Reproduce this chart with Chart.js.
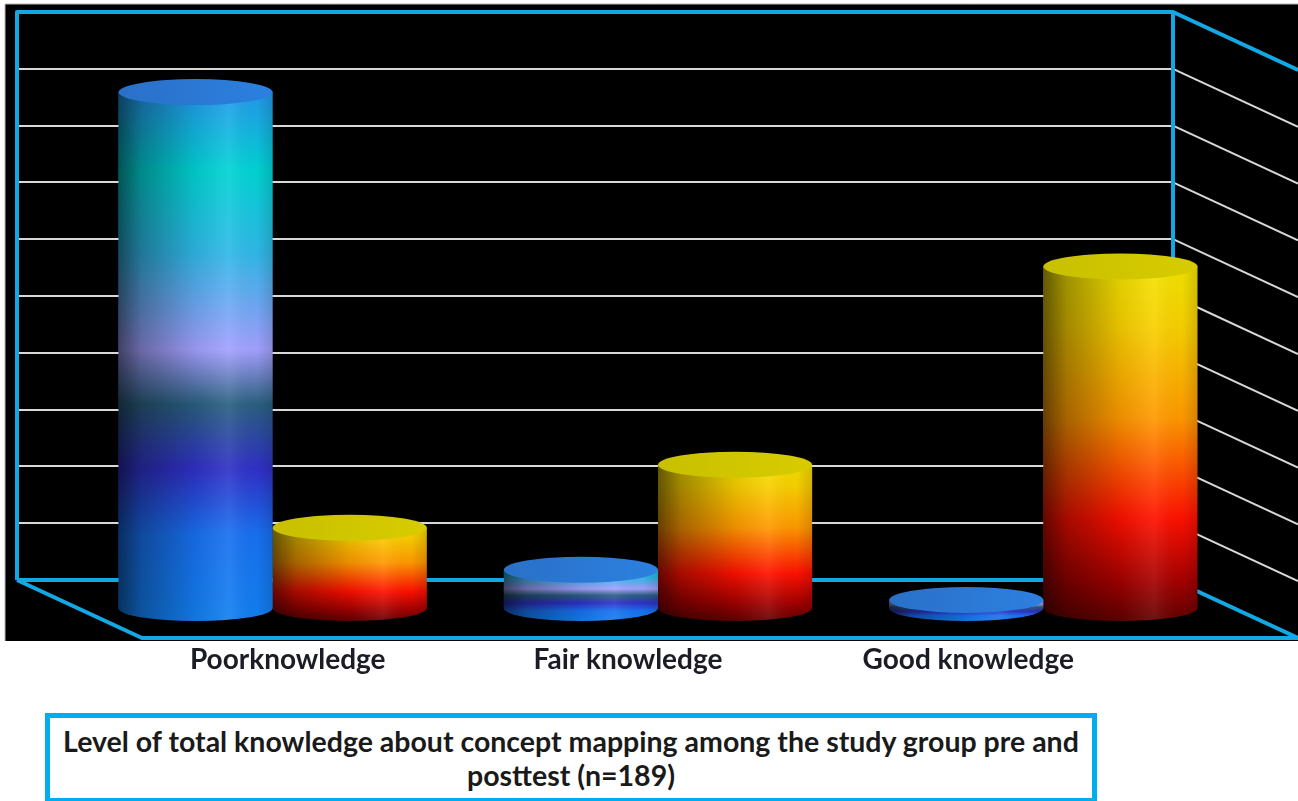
<!DOCTYPE html>
<html>
<head>
<meta charset="utf-8">
<script src="https://cdn.jsdelivr.net/npm/chart.js@4"></script>
<style>
  body { margin: 0; background: #fff; width: 1298px; height: 801px; position: relative; overflow: hidden; }
  #wrap { position: absolute; left: 0; top: 0; width: 1298px; height: 690px; }
  #title {
    position: absolute; left: 45px; top: 713px; width: 1042px; height: 74px;
    border: 5px solid #00aeef; box-sizing: content-box;
    font-family: Lato, sans-serif; font-weight: bold; font-size: 28.5px; line-height: 34px;
    color: #1a1a1a; text-align: center; padding-top: 6px;
  }
</style>
</head>
<body>
<div id="wrap"><canvas id="myChart" width="1298" height="690"></canvas></div>
<div id="title">Level of total knowledge about concept mapping among the study group pre and<br>posttest (n=189)</div>
<script>
// data (percent of n=189)
var categories = ['Poorknowledge', 'Fair knowledge', 'Good knowledge'];
var preTest = [91.0, 6.9, 1.6];
var postTest = [14.3, 25.4, 60.3];
var yTicks = [0, 10, 20, 30, 40, 50, 60, 70, 80, 90, 100];

var CYAN = '#12a8e4';
var DEPTH_X = 125, DEPTH_Y = 58;   // box depth
var SHIFT_X = 63, SHIFT_Y = 29;    // bars sit half way in
var RY = 13;

function bodyPath(ctx, cx, top, bottom, w) {
  var rx = w / 2;
  ctx.beginPath();
  ctx.moveTo(cx - rx, top);
  ctx.lineTo(cx - rx, bottom);
  ctx.ellipse(cx, bottom, rx, RY, 0, Math.PI, 0, true);
  ctx.lineTo(cx + rx, top);
  ctx.closePath();
}

function drawCylinder(ctx, cx, top, bottom, w, kind) {
  var rx = w / 2;
  var g = ctx.createLinearGradient(0, top - RY, 0, bottom + RY);
  if (kind == 'pre') {
    g.addColorStop(0, '#2a8ef0');
    g.addColorStop(0.17, '#00d4d4');
    g.addColorStop(0.32, '#30b8e8');
    g.addColorStop(0.42, '#70a8f4');
    g.addColorStop(0.5, '#a4a0ff');
    g.addColorStop(0.6, '#2a6080');
    g.addColorStop(0.72, '#3030c8');
    g.addColorStop(0.84, '#1870f0');
    g.addColorStop(1, '#1280f0');
  } else {
    g.addColorStop(0, '#f0e800');
    g.addColorStop(0.2, '#f8d000');
    g.addColorStop(0.45, '#ff9800');
    g.addColorStop(0.72, '#ff1000');
    g.addColorStop(0.9, '#a00000');
    g.addColorStop(1, '#600000');
  }
  bodyPath(ctx, cx, top, bottom, w);
  ctx.fillStyle = g;
  ctx.fill();
  // side shading
  var h = ctx.createLinearGradient(cx - rx, 0, cx + rx, 0);
  h.addColorStop(0, 'rgba(0,0,0,0.6)');
  h.addColorStop(0.15, 'rgba(0,0,0,0.35)');
  h.addColorStop(0.5, 'rgba(0,0,0,0.08)');
  h.addColorStop(0.72, 'rgba(255,255,255,0.08)');
  h.addColorStop(0.9, 'rgba(0,0,0,0.02)');
  h.addColorStop(1, 'rgba(0,0,0,0.15)');
  bodyPath(ctx, cx, top, bottom, w);
  ctx.fillStyle = h;
  ctx.fill();
  // lid
  var t = ctx.createLinearGradient(cx - rx, 0, cx + rx, 0);
  if (kind == 'pre') {
    t.addColorStop(0, '#2a70c8');
    t.addColorStop(1, '#2c80e0');
  } else {
    t.addColorStop(0, '#c8c000');
    t.addColorStop(1, '#d8cc00');
  }
  ctx.beginPath();
  ctx.ellipse(cx, top, rx, RY, 0, 0, Math.PI * 2);
  ctx.fillStyle = t;
  ctx.fill();
}

var boxPlugin = {
  id: 'box3d',
  beforeDraw: function(chart) {
    var ctx = chart.ctx, a = chart.chartArea;
    ctx.save();
    ctx.fillStyle = '#000';
    ctx.fillRect(a.left - 12, a.top - 8, chart.width - a.left + 12, a.bottom + DEPTH_Y + 3 - a.top + 8);
    ctx.strokeStyle = '#b8b8b8';
    ctx.lineWidth = 1;
    ctx.beginPath();
    ctx.moveTo(a.left - 12, a.bottom + DEPTH_Y + 3);
    ctx.lineTo(a.left - 12, a.top - 8);
    ctx.lineTo(chart.width, a.top - 8);
    ctx.stroke();
    ctx.restore();
  },
  beforeDatasetsDraw: function(chart) {
    var ctx = chart.ctx, a = chart.chartArea, ys = chart.scales.y;
    ctx.save();
    // grid lines on the right wall
    ctx.strokeStyle = '#d8d8d8';
    ctx.lineWidth = 2;
    yTicks.forEach(function(v) {
      var y = ys.getPixelForValue(v);
      ctx.beginPath();
      ctx.moveTo(a.right, y);
      ctx.lineTo(a.right + DEPTH_X, y + DEPTH_Y);
      ctx.stroke();
    });
    ctx.strokeStyle = CYAN;
    ctx.lineWidth = 4;
    ctx.lineJoin = 'round';
    ctx.beginPath();
    ctx.moveTo(a.left, a.bottom);
    ctx.lineTo(a.left, a.top);
    ctx.lineTo(a.right, a.top);
    ctx.lineTo(a.right + DEPTH_X, a.top + DEPTH_Y);
    ctx.moveTo(a.right, a.top);
    ctx.lineTo(a.right, a.bottom);
    ctx.moveTo(a.left, a.bottom);
    ctx.lineTo(a.right, a.bottom);
    ctx.lineTo(a.right + DEPTH_X, a.bottom + DEPTH_Y);
    ctx.moveTo(a.left, a.bottom);
    ctx.lineTo(a.left + DEPTH_X, a.bottom + DEPTH_Y);
    ctx.lineTo(chart.width, a.bottom + DEPTH_Y);
    ctx.stroke();
    ctx.restore();
  },
  afterDatasetsDraw: function(chart) {
    var ctx = chart.ctx;
    var pre = chart.getDatasetMeta(0).data, post = chart.getDatasetMeta(1).data;
    ctx.save();
    for (var i = 0; i < categories.length; i++) {
      [[post[i], 'post'], [pre[i], 'pre']].forEach(function(p) {
        var b = p[0].getProps(['x', 'y', 'base', 'width'], true);
        drawCylinder(ctx, b.x + SHIFT_X, b.y + SHIFT_Y, b.base + SHIFT_Y, b.width, p[1]);
      });
    }
    ctx.restore();
  },
  afterDraw: function(chart) {
    var ctx = chart.ctx, a = chart.chartArea, xs = chart.scales.x;
    var mid = (a.left + a.right) / 2;
    ctx.save();
    ctx.font = 'bold 28px Lato';
    ctx.fillStyle = '#1c1c26';
    ctx.textAlign = 'center';
    ctx.textBaseline = 'middle';
    categories.forEach(function(c, i) {
      var px = xs.getPixelForValue(i);
      ctx.fillText(c, mid + 33 + (px - mid) * 0.883, a.bottom + 80);
    });
    ctx.restore();
  }
};

var ctx = document.getElementById('myChart').getContext('2d');
var chart = new Chart(ctx, {
  type: 'bar',
  data: {
    labels: categories,
    datasets: [
      { label: 'Pre', data: preTest, backgroundColor: 'rgba(0,0,0,0)' },
      { label: 'Post', data: postTest, backgroundColor: 'rgba(0,0,0,0)' }
    ]
  },
  options: {
    responsive: false,
    animation: false,
    devicePixelRatio: 1,
    layout: { padding: { left: 17, right: 125, top: 12, bottom: 110 } },
    plugins: { legend: { display: false }, tooltip: { enabled: false } },
    datasets: { bar: { categoryPercentage: 0.8, barPercentage: 1 } },
    scales: {
      x: { display: false },
      y: {
        min: 0, max: 100,
        ticks: { display: false, stepSize: 10 },
        grid: { color: '#d8d8d8', lineWidth: 2, drawTicks: false },
        border: { display: false },
        afterFit: function(s) { s.width = 0; }
      }
    }
  },
  plugins: [boxPlugin]
});
</script>
</body>
</html>
